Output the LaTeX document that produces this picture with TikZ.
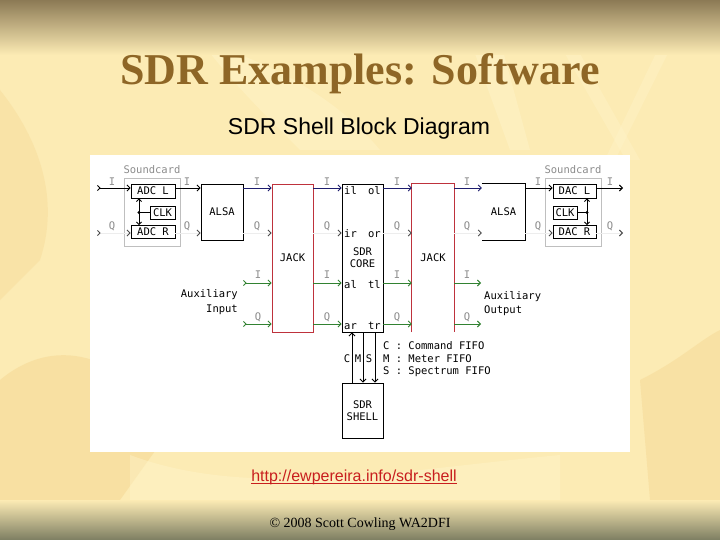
\documentclass[tikz,border=0pt]{standalone}
\usepackage{fontspec}
\setmainfont{Liberation Serif}
\newfontfamily\arialf{Liberation Sans}
\newfontfamily\monof{DejaVu Sans Mono}
\usetikzlibrary{arrows.meta,calc}
\definecolor{bgbase}{RGB}{252,235,180}
\definecolor{bgtop}{RGB}{140,122,85}
\definecolor{bgbot}{RGB}{125,126,98}
\definecolor{bglight}{RGB}{255,246,205}
\definecolor{bgdark}{RGB}{245,214,145}
\definecolor{titlec}{RGB}{142,102,38}
\definecolor{navyw}{RGB}{30,30,110}
\definecolor{greenw}{RGB}{50,130,50}
\definecolor{jackred}{RGB}{190,50,60}
\definecolor{urlred}{RGB}{200,30,30}
\begin{document}
\begin{tikzpicture}[x=1pt,y=-1pt,
  mono/.style={font=\monof\fontsize{10.5}{12}\selectfont},
  blk/.style={mono, draw=black, line width=0.9pt, inner sep=0pt, align=center},
  blkn/.style={mono, inner sep=0pt},
  redbox/.style={mono, draw=jackred, line width=0.9pt, inner sep=0pt},
  grybox/.style={draw=black!25, line width=0.9pt, inner sep=0pt},
  lbl/.style={mono, inner sep=0pt, text=black!45},
  txt/.style={mono, inner sep=0pt},
  tipE/.style={-{Straight Barb[length=3pt,width=6pt]}},
  wire/.style={line width=0.9pt, black, tipE},
  nwire/.style={line width=0.9pt, navyw, tipE},
  gwire/.style={line width=0.9pt, greenw, tipE},
  smark/.style={{Straight Barb[reversed,length=2.5pt,width=5pt]}-{Straight Barb[length=3pt,width=6pt]}},
  qwire/.style={line width=0.9pt, black!7, -{Straight Barb[length=3pt,width=6pt,color=black!70]}},
  qswire/.style={line width=0.9pt, black!7, {Straight Barb[reversed,length=2.5pt,width=5pt,color=black!70]}-{Straight Barb[length=3pt,width=6pt,color=black!70]}}
]
\useasboundingbox (0,0) rectangle (720,540);
% ---------- background ----------
\fill[bgbase] (0,0) rectangle (720,540);
\fill[bgdark, opacity=0.5] (0,380) .. controls (60,330) and (130,360) .. (170,430) -- (120,500) -- (0,500) -- cycle;
\fill[bgdark, opacity=0.45] (640,380) .. controls (680,360) and (700,340) .. (720,330) -- (720,500) -- (650,500) -- cycle;
\fill[bgdark, opacity=0.35] (0,90) .. controls (40,140) and (60,200) .. (40,260) -- (0,300) -- cycle;
\fill[bglight, opacity=0.4] (470,40) -- (500,40) -- (530,150) -- (510,150) -- cycle;
\fill[bglight, opacity=0.35] (560,45) -- (575,45) -- (640,160) -- (626,160) -- cycle;
\fill[bglight, opacity=0.35] (660,45) -- (672,45) -- (610,170) -- (600,170) -- cycle;
\fill[bglight, opacity=0.4] (200,40) .. controls (260,60) and (330,90) .. (380,150) -- (300,150) .. controls (260,110) and (230,80) .. cycle;
\fill[bglight, opacity=0.4] (130,455) .. controls (250,500) and (400,470) .. (560,455) -- (560,500) -- (130,500) -- cycle;
\fill[top color=bgtop, bottom color=bgbase] (0,0) rectangle (720,55);
\fill[top color=bgbase, bottom color=bgbot] (0,500) rectangle (720,540);
% ---------- titles ----------
\node[anchor=base, inner sep=0, text=titlec, font=\fontsize{44}{48}\selectfont\bfseries] (title) at (360,85) {SDR Examples: Software};
\node[anchor=base, inner sep=0, font=\arialf\fontsize{23}{26}\selectfont] (subtitle) at (359,135) {SDR Shell Block Diagram};
% ---------- panel ----------
\fill[white] (90,155) rectangle (630,452);
% ---------- rows ----------
\coordinate (rI) at (0,188);
\coordinate (rQ) at (0,233);
\coordinate (rA) at (0,283);
\coordinate (rB) at (0,324);
% ---------- blocks ----------
\node[grybox, minimum width=56, minimum height=68] (sc1) at (152,212) {};
\node[lbl] (sc1t) at (152,170) {Soundcard};
\node[blk, minimum width=44, minimum height=14] (adcl) at (153,191) {ADC L};
\node[blk, minimum width=25, minimum height=13] (clk1) at (162.5,212.5) {CLK};
\node[blk, minimum width=44, minimum height=13] (adcr) at (153,232) {ADC R};
\node[blk, minimum width=42, minimum height=56] (alsa1) at (222,212) {ALSA};
\node[redbox, minimum width=41, minimum height=148] (jack1) at (292.5,258) {JACK};
\node[blk, minimum width=41, minimum height=148] (core) at (362.5,258) {SDR\\CORE};
\node[blkn, minimum width=42, minimum height=148] (jack2) at (433,258) {JACK};
\draw[jackred, line width=0.9pt] (jack2.south west) -- (jack2.north west) -- (jack2.north east) -- (jack2.south east);
\node[blkn, minimum width=43, minimum height=56] (alsa2) at (503.5,212) {ALSA};
\draw[black, line width=0.9pt] (alsa2.north west) -- (alsa2.north east) -- (alsa2.south east) -- (alsa2.south west);
\node[grybox, minimum width=56, minimum height=68] (sc2) at (573,212) {};
\node[lbl] (sc2t) at (573,170) {Soundcard};
\node[blk, minimum width=43, minimum height=14] (dacl) at (574.5,191) {DAC L};
\node[blk, minimum width=24, minimum height=13] (clk2) at (565,212.5) {CLK};
\node[blk, minimum width=43, minimum height=13] (dacr) at (574.5,232) {DAC R};
\node[blk, minimum width=41, minimum height=55] (shell) at (362.5,410.5) {SDR\\SHELL};
% core ports
\node[txt, anchor=base west] (pil) at (344,195) {il};
\node[txt, anchor=base east] (pol) at (381,195) {ol};
\node[txt, anchor=base west] (pir) at (344,237) {ir};
\node[txt, anchor=base east] (por) at (381,237) {or};
\node[txt, anchor=base west] (pal) at (344,288) {al};
\node[txt, anchor=base east] (ptl) at (381,288) {tl};
\node[txt, anchor=base west] (par) at (344,329) {ar};
\node[txt, anchor=base east] (ptr) at (381,329) {tr};
% ---------- clock junctions ----------
\coordinate (j1) at (139,212.5);
\draw[line width=0.9pt, {Straight Barb[length=2.5pt,width=5pt]}-{Straight Barb[length=2.5pt,width=5pt]}] (j1 |- adcl.south) -- (j1 |- adcr.north);
\fill (j1) circle (1.6);
\draw[line width=0.9pt] (j1) -- (clk1.west);
\coordinate (j2) at (587,212.5);
\draw[line width=0.9pt, {Straight Barb[length=2.5pt,width=5pt]}-{Straight Barb[length=2.5pt,width=5pt]}] (j2 |- dacl.south) -- (j2 |- dacr.north);
\fill (j2) circle (1.6);
\draw[line width=0.9pt] (j2) -- (clk2.east);
% ---------- I row ----------
\coordinate (inI) at (97,188);
\coordinate (outI) at (623,188);
\draw[line width=0.9pt, smark] (inI) -- (adcl.west |- rI);
\draw[wire] (adcl.east |- rI) -- (alsa1.west |- rI);
\draw[nwire] (alsa1.east |- rI) -- (jack1.west |- rI);
\draw[nwire] (jack1.east |- rI) -- (core.west |- rI);
\draw[nwire] (core.east |- rI) -- (jack2.west |- rI);
\draw[nwire] (jack2.east |- rI) -- (alsa2.west |- rI);
\draw[wire] (alsa2.east |- rI) -- (dacl.west |- rI);
\draw[wire] (dacl.east |- rI) -- (outI);
% ---------- Q row ----------
\coordinate (inQ) at (97,233);
\coordinate (outQ) at (623,233);
\draw[qswire] (inQ) -- (adcr.west |- rQ);
\draw[qwire] (adcr.east |- rQ) -- (alsa1.west |- rQ);
\draw[qwire] (alsa1.east |- rQ) -- (jack1.west |- rQ);
\draw[qwire] (jack1.east |- rQ) -- (core.west |- rQ);
\draw[qwire] (core.east |- rQ) -- (jack2.west |- rQ);
\draw[qwire] (jack2.east |- rQ) -- (alsa2.west |- rQ);
\draw[qwire] (alsa2.east |- rQ) -- (dacr.west |- rQ);
\draw[qwire] (dacr.east |- rQ) -- (outQ);
% ---------- aux rows ----------
\coordinate (ainI) at (243,283);
\coordinate (ainQ) at (243,324);
\coordinate (aoutI) at (481,283);
\coordinate (aoutQ) at (481,324);
\draw[gwire, smark] (ainI) -- (jack1.west |- rA);
\draw[gwire] (jack1.east |- rA) -- (core.west |- rA);
\draw[gwire] (core.east |- rA) -- (jack2.west |- rA);
\draw[gwire] (jack2.east |- rA) -- (aoutI);
\draw[gwire, smark] (ainQ) -- (jack1.west |- rB);
\draw[gwire] (jack1.east |- rB) -- (core.west |- rB);
\draw[gwire] (core.east |- rB) -- (jack2.west |- rB);
\draw[gwire] (jack2.east |- rB) -- (aoutQ);
\node[txt, anchor=east, align=right, font=\monof\fontsize{10.5}{15}\selectfont] (auxin) at (238,302.5) {Auxiliary\\Input};
\node[txt, anchor=west, align=left, font=\monof\fontsize{10.5}{14}\selectfont] (auxout) at (484,304) {Auxiliary\\Output};
% ---------- I/Q labels ----------
\foreach \x [count=\k] in {112,187,257,327,397,467,538,610}{
  \node[lbl] (lI\k) at (\x,182) {I};
  \node[lbl] (lQ\k) at (\x,226) {Q};
}
\foreach \x [count=\k] in {258,327,397,467}{
  \node[lbl] (lA\k) at (\x,275) {I};
  \node[lbl] (lB\k) at (\x,317) {Q};
}
% ---------- FIFO links ----------
\coordinate (xC) at (352,0);
\coordinate (xM) at (363,0);
\coordinate (xS) at (375,0);
\draw[wire] (xC |- shell.north) -- (xC |- core.south);
\draw[wire] (xM |- core.south) -- (xM |- shell.north);
\draw[wire] (xS |- core.south) -- (xS |- shell.north);
\node[txt] (lC) at (347,359) {C};
\node[txt] (lM) at (358,359) {M};
\node[txt] (lS) at (369,359) {S};
\node[txt, anchor=west] (lg1) at (383,346) {C : Command FIFO};
\node[txt, anchor=west] (lg2) at (383,359) {M : Meter FIFO};
\node[txt, anchor=west] (lg3) at (383,372) {S : Spectrum FIFO};
% ---------- footer ----------
\node[anchor=base, inner sep=0, text=urlred, font=\arialf\fontsize{16}{18}\selectfont] (url) at (354,481) {http://ewpereira.info/sdr-shell};
\draw[urlred, line width=1.2pt] ($(url.base west)+(0,2.5)$) -- ($(url.base east)+(0,2.5)$);
\node[anchor=base, inner sep=0, font=\fontsize{14}{16}\selectfont] (copy) at (360,527) {© 2008 Scott Cowling WA2DFI};
\end{tikzpicture}
\end{document}
